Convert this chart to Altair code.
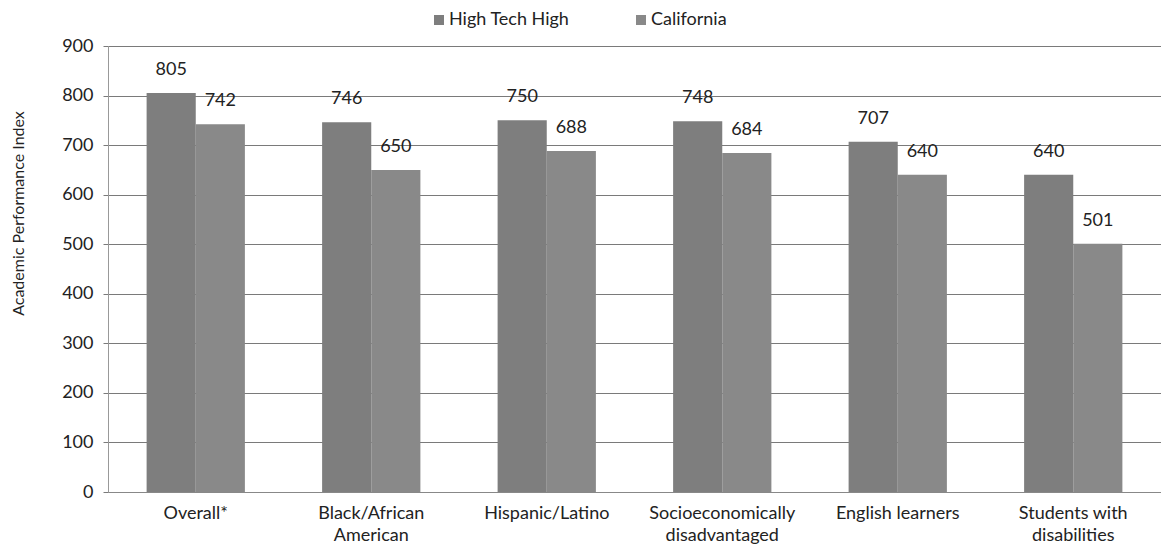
import altair as alt
import pandas as pd

categories = ["Overall*", "Black/African\nAmerican", "Hispanic/Latino",
              "Socioeconomically\ndisadvantaged", "English learners",
              "Students with\ndisabilities"]
series = ["High Tech High", "California"]
hth_values = [805, 746, 750, 748, 707, 640]
ca_values = [742, 650, 688, 684, 640, 501]
colors = ["#7e7e7e", "#898989"]

rows = []
for c, h, v in zip(categories, hth_values, ca_values):
    rows.append({"group": c, "series": series[0], "api": h})
    rows.append({"group": c, "series": series[1], "api": v})
df = pd.DataFrame(rows)

FONT = "Lato"
FS = 18

x = alt.X("group:N", sort=categories, title=None,
          scale=alt.Scale(paddingInner=0.44, paddingOuter=0.22),
          axis=alt.Axis(labelAngle=0, labelFont=FONT, labelFontSize=FS,
                        labelColor="#222", labelExpr="split(datum.label, '\\n')",
                        labelLineHeight=22, labelPadding=12, ticks=False,
                        domainColor="#888", grid=False, labelLimit=250))
xo = alt.XOffset("series:N", sort=series)
y = alt.Y("api:Q", title="Academic Performance Index",
          scale=alt.Scale(domain=[0, 900]),
          axis=alt.Axis(values=list(range(0, 901, 100)), labelFont=FONT,
                        labelFontSize=FS, labelColor="#222", titleFont=FONT,
                        titleFontSize=16, titleFontWeight="normal",
                        titleColor="#222", titleX=-90, titleY=167,
                        titleAngle=270, titleAlign="center",
                        titleBaseline="middle",
                        gridColor="#7a7a7a", gridWidth=1, gridOpacity=1,
                        tickColor="#7a7a7a", tickSize=5, labelPadding=10,
                        domainColor="#999"))

bars = alt.Chart(df).mark_bar().encode(
    x=x, xOffset=xo, y=y,
    color=alt.Color("series:N", sort=series,
                    scale=alt.Scale(domain=series, range=colors),
                    legend=alt.Legend(title=None, orient="none",
                                      direction="horizontal",
                                      legendX=322, legendY=-35,
                                      symbolType="square", symbolSize=100,
                                      symbolStrokeWidth=0, labelFont=FONT,
                                      labelFontSize=FS, labelColor="#222",
                                      labelOffset=1, columnPadding=62,
                                      padding=0)),
)

labels = alt.Chart(df).mark_text(dy=-23, font=FONT, fontSize=FS,
                                 color="#222", baseline="middle").encode(
    x=x, xOffset=xo, y=y, text=alt.Text("api:Q"))

chart = (bars + labels).properties(
    width=1053, height=446,
    autosize=alt.AutoSizeParams(type="none"),
    padding={"left": 100, "top": 38, "right": 0, "bottom": 52},
).configure_view(stroke=None).configure(background="white")

chart.save("out.html", embed_options={"renderer": "svg", "actions": False})
